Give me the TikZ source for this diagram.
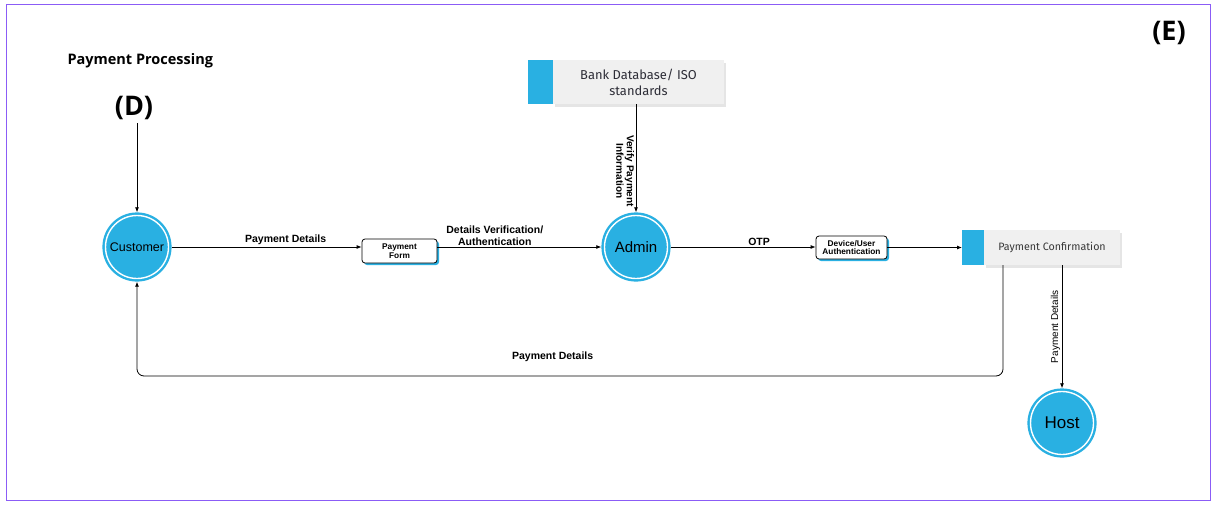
\documentclass[tikz,border=0pt]{standalone}
\usepackage{fontspec}
\setmainfont{Liberation Sans}
\newfontfamily\titlefont{Open Sans}
\newfontfamily\boxfont{Fira Sans}
\usetikzlibrary{positioning,shadows,arrows.meta}

\definecolor{procblue}{RGB}{41,176,226}
\definecolor{framepurple}{RGB}{139,92,246}
\definecolor{storegrey}{RGB}{240,240,240}
\definecolor{storetext}{RGB}{45,45,55}

\begin{document}
\begin{tikzpicture}[x=1pt,y=-1pt,
    proc/.style={circle,fill=procblue,draw=procblue,double=white,double distance=1.4pt,line width=2.4pt,minimum size=63pt,inner sep=0pt,outer sep=3.2pt},
    form/.style={draw,rounded corners=3pt,fill=white,line width=0.8pt,align=center,inner sep=1pt,font=\bfseries\fontsize{8.3}{8.8}\selectfont,drop shadow={fill=procblue,opacity=1,shadow xshift=2pt,shadow yshift=-2pt}},
    store/.style={fill=storegrey,text=storetext,align=center,inner sep=0pt,outer sep=0pt,font=\boxfont\fontsize{12.9}{16}\selectfont,drop shadow={opacity=0.2,shadow xshift=2pt,shadow yshift=-3pt}},
    strip/.style={fill=procblue,inner sep=0pt,outer sep=0pt},
    flow/.style={-{Latex[length=5pt,width=4pt]},line width=0.8pt},
    elabel/.style={font=\bfseries\fontsize{10.5}{11.5}\selectfont,align=center,inner sep=1.5pt}]

    \useasboundingbox (0,0) rectangle (1215,506);
    \fill[white] (0,0) rectangle (1215,506);
    \draw[framepurple,line width=1.6pt] (6.5,4.5) rectangle (1210.5,500.5);

    \node[font=\titlefont\bfseries\fontsize{14.5}{16}\selectfont,anchor=west] (title) at (64,61) {Payment Processing};
    \node[font=\titlefont\bfseries\fontsize{27}{30}\selectfont] (dmark) at (134,108) {(D)};
    \node[font=\titlefont\bfseries\fontsize{27}{30}\selectfont] (emark) at (1169,33) {(E)};

    \node[proc,font=\fontsize{12.5}{14}\selectfont] (cust) at (137,247) {Customer};
    \node[proc,font=\fontsize{15}{17}\selectfont] (admin) at (636,247) {Admin};
    \node[proc,font=\fontsize{17}{19}\selectfont] (host) at (1062,423) {Host};

    \node[form,minimum width=75pt,minimum height=24pt] (pform) at (399.5,251) {Payment\\Form};
    \node[form,minimum width=71pt,minimum height=23pt] (dev) at (851.5,247.5) {Device/User\\Authentication};

    \node[store,minimum width=171pt,minimum height=44pt] (bank) at (638.5,82) {Bank Database/ ISO\\standards};
    \node[strip,minimum width=25pt,minimum height=44pt,left=0pt of bank] (bankstrip) {};
    \node[store,minimum width=136pt,minimum height=35pt,text=black!78,font=\boxfont\fontsize{10.7}{12}\selectfont] (conf) at (1052,247.5) {Payment Confirmation};
    \node[strip,minimum width=22pt,minimum height=35pt,left=0pt of conf] (confstrip) {};

    \coordinate (loop) at (137,376);

    \draw[flow] (dmark.south -| cust.north) -- (cust.north);
    \draw[flow] (cust) -- node[elabel,above,pos=0.6] {Payment Details} (cust -| pform.west);
    \draw[flow] (pform.east |- admin) -- node[elabel,above,pos=0.35] {Details Verification/\\Authentication} (admin);
    \draw[flow] (admin) -- node[elabel,above,pos=0.61] {OTP} (admin -| dev.west);
    \draw[flow] (dev) -- (confstrip);
    \draw[flow] (bank.south -| admin.north) -- node[elabel,font=\bfseries\fontsize{10}{10.5}\selectfont,rotate=-90,anchor=north,pos=0.62] {Verify Payment\\Information} (admin.north);
    \draw[flow,rounded corners=7pt] ([xshift=19pt]conf.south west) |- node[elabel,above=12pt,pos=0.76] {Payment Details} (loop) -- (cust);
    \draw[flow] ([xshift=78pt]conf.south west) -- node[elabel,font=\fontsize{10}{11}\selectfont,rotate=90,anchor=south,pos=0.5] {Payment Details} (host.north);

\end{tikzpicture}
\end{document}
